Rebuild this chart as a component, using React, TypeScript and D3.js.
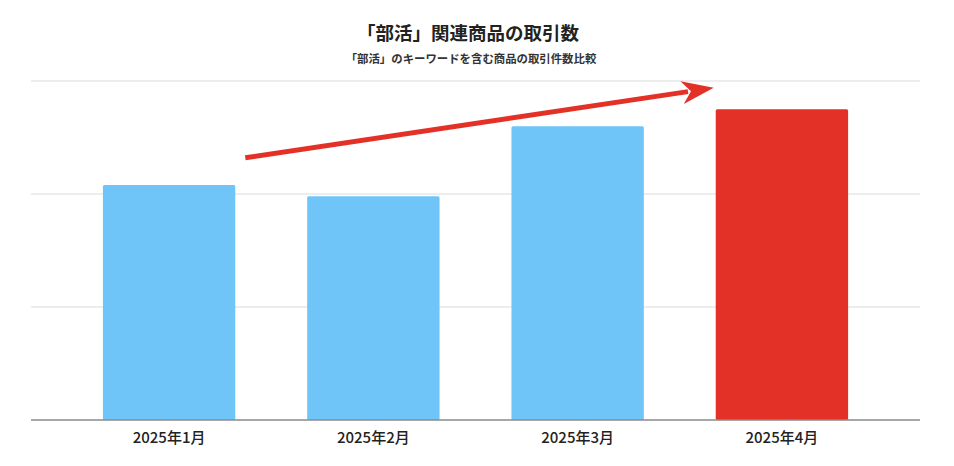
import * as d3 from "d3";
import { useEffect, useRef } from "react";

const months = ["2025年1月", "2025年2月", "2025年3月", "2025年4月"];
const counts = [208, 198, 260, 275];
const gridTicks = [0, 100, 200, 300];
const title = "「部活」関連商品の取引数";
const subtitle = "「部活」のキーワードを含む商品の取引件数比較";
// trend arrow: from just right of the first bar to just left of the last one, in value units
const arrowFrom = { month: months[0], value: 232 };
const arrowTo = { month: months[3], value: 294 };

const App = () => {
  const ref = useRef(null);

  const renderChart = () => {
    const width = 954;
    const height = 466;
    const margin = { top: 81, right: 34, bottom: 46, left: 31 };

    const svg = d3.select(ref.current).attr("width", width).attr("height", height);
    svg.selectAll("*").remove();

    const x = d3
      .scaleBand()
      .domain(months)
      .range([margin.left, width - margin.right])
      .padding(0.352);

    const y = d3
      .scaleLinear()
      .domain([0, 300])
      .range([height - margin.bottom, margin.top]);

    // grid
    svg
      .append("g")
      .selectAll("line")
      .data(gridTicks.slice(1))
      .join("line")
      .attr("x1", margin.left)
      .attr("x2", width - margin.right)
      .attr("y1", (d) => y(d))
      .attr("y2", (d) => y(d))
      .attr("stroke", "#dcdcdc")
      .attr("stroke-width", 1.2);

    svg
      .append("g")
      .selectAll("rect")
      .data(months)
      .join("rect")
      .attr("x", (d) => x(d) as number)
      .attr("y", (_, i) => y(counts[i]))
      .attr("width", x.bandwidth())
      .attr("height", (_, i) => y(0) - y(counts[i]))
      .attr("rx", 1.5)
      .attr("fill", (_, i) => (i === months.length - 1 ? "#e43128" : "#6fc5f8"));

    // baseline
    svg
      .append("line")
      .attr("x1", margin.left)
      .attr("x2", width - margin.right)
      .attr("y1", y(0))
      .attr("y2", y(0))
      .attr("stroke", "#8a8a8a")
      .attr("stroke-width", 1.6);

    const font = "'Noto Sans CJK JP', 'Noto Sans', sans-serif";

    svg
      .append("g")
      .selectAll("text")
      .data(months)
      .join("text")
      .attr("x", (d) => (x(d) as number) + x.bandwidth() / 2)
      .attr("y", y(0) + 23)
      .attr("text-anchor", "middle")
      .attr("font-family", font)
      .attr("font-size", 15)
      .attr("font-weight", 500)
      .attr("fill", "#222")
      .text((d) => d);

    svg
      .append("text")
      .attr("x", 468)
      .attr("y", 40)
      .attr("text-anchor", "middle")
      .attr("font-family", font)
      .attr("font-size", 18.5)
      .attr("font-weight", 700)
      .attr("fill", "#222")
      .text(title);

    svg
      .append("text")
      .attr("x", 471)
      .attr("y", 63)
      .attr("text-anchor", "middle")
      .attr("font-family", font)
      .attr("font-size", 11.4)
      .attr("font-weight", 700)
      .attr("fill", "#333")
      .text(subtitle);

    // arrow
    const x0 = (x(arrowFrom.month) as number) + x.bandwidth() + 10;
    const y0 = y(arrowFrom.value);
    const x1 = (x(arrowTo.month) as number) - 2;
    const y1 = y(arrowTo.value);
    const ang = Math.atan2(y1 - y0, x1 - x0);
    const headLen = 32;
    const headHalf = 11.5;
    const bx = x1 - headLen * Math.cos(ang);
    const by = y1 - headLen * Math.sin(ang);
    const nx = -Math.sin(ang);
    const ny = Math.cos(ang);
    const red = "#e43128";

    svg
      .append("line")
      .attr("x1", x0)
      .attr("y1", y0)
      .attr("x2", bx + 6 * Math.cos(ang))
      .attr("y2", by + 6 * Math.sin(ang))
      .attr("stroke", red)
      .attr("stroke-width", 5);

    svg
      .append("path")
      .attr(
        "d",
        `M${x1},${y1}L${bx + nx * headHalf},${by + ny * headHalf}L${bx + 9 * Math.cos(ang)},${by + 9 * Math.sin(ang)}L${bx - nx * headHalf},${by - ny * headHalf}Z`
      )
      .attr("fill", red);
  };

  // eslint-disable-next-line react-hooks/exhaustive-deps
  useEffect(() => {
    document.body.style.margin = "0";
    renderChart();
  }, []);

  return <svg ref={ref} style={{ display: "block", background: "#fff" }}></svg>;
};

export default App;
